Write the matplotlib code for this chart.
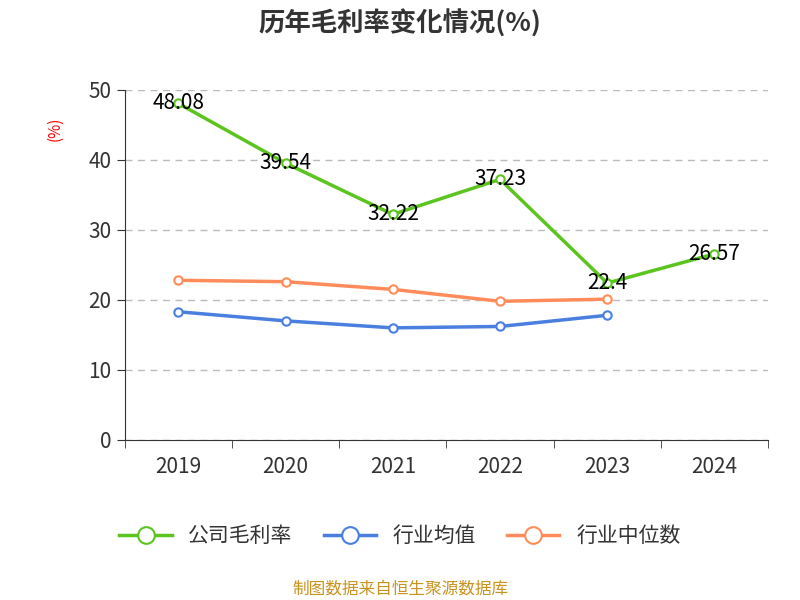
import matplotlib
matplotlib.use("Agg")
import matplotlib.pyplot as plt
from matplotlib import font_manager as fm
import glob

years = ["2019", "2020", "2021", "2022", "2023", "2024"]
company = [48.08, 39.54, 32.22, 37.23, 22.4, 26.57]
industry_avg = [18.3, 17.0, 16.0, 16.2, 17.8]
industry_median = [22.8, 22.6, 21.5, 19.8, 20.1]
yticks = [0, 10, 20, 30, 40, 50]

for p in glob.glob("/usr/share/fonts/**/*CJK*", recursive=True) + glob.glob("/usr/share/fonts/**/*cjk*", recursive=True):
    try:
        fm.fontManager.addfont(p)
    except Exception:
        pass
names = {f.name for f in fm.fontManager.ttflist}
cjk = [n for n in ["Noto Sans CJK SC", "Noto Sans CJK JP", "Noto Sans CJK TC", "Noto Sans CJK KR"] if n in names]
plt.rcParams["font.family"] = "sans-serif"
plt.rcParams["font.sans-serif"] = cjk + ["DejaVu Sans"]

fig = plt.figure(figsize=(8, 6), dpi=100)
ax = fig.add_axes([0.156, 0.267, 0.804, 0.583])
x = list(range(len(years)))
kw = dict(lw=2.5, marker="o", ms=6, markerfacecolor="white", mew=1.5)
ax.plot(x, company, color="#5cc41e", label="公司毛利率", zorder=3, **kw)
ax.plot(x[:5], industry_avg, color="#4a7fe0", label="行业均值", zorder=3, **kw)
ax.plot(x[:5], industry_median, color="#ff8c5a", label="行业中位数", zorder=3, **kw)
for xi, v in zip(x, company):
    ax.text(xi, v, f"{v:g}", ha="center", va="center", fontsize=15, color="black", zorder=4)

ax.set_xlim(-0.5, 5.5)
ax.set_ylim(0, 50)
ax.set_yticks(yticks)
ax.set_xticks(x)
ax.set_xticklabels(years)
ax.set_xticks([i - 0.5 for i in range(7)], minor=True)
ax.tick_params(axis="x", which="major", length=0, labelsize=15, colors="#333333", pad=12)
ax.tick_params(axis="x", which="minor", length=6, color="#333333")
ax.tick_params(axis="y", length=6, labelsize=15, colors="#333333")
ax.yaxis.grid(True, ls=(0, (5, 4)), color="#bbbbbb", lw=1)
for s in ["top", "right"]:
    ax.spines[s].set_visible(False)
ax.spines["left"].set_color("#333333")
ax.spines["bottom"].set_color("#333333")
ax.set_ylabel("(%)", color="red", fontsize=11, labelpad=2)
ax.yaxis.set_label_coords(-0.095, 0.89)

fig.text(0.5, 0.96, "历年毛利率变化情况(%)", ha="center", va="center", fontsize=19, fontweight="bold", color="#333333")
fig.legend(loc="center", bbox_to_anchor=(0.5, 0.107), ncol=3, frameon=False, fontsize=15,
           handlelength=2.5, columnspacing=1.5, labelcolor="#333333", markerscale=2)
fig.text(0.5, 0.018, "制图数据来自恒生聚源数据库", ha="center", va="center", fontsize=12, color="#c8931e")
fig.savefig("out.png")
